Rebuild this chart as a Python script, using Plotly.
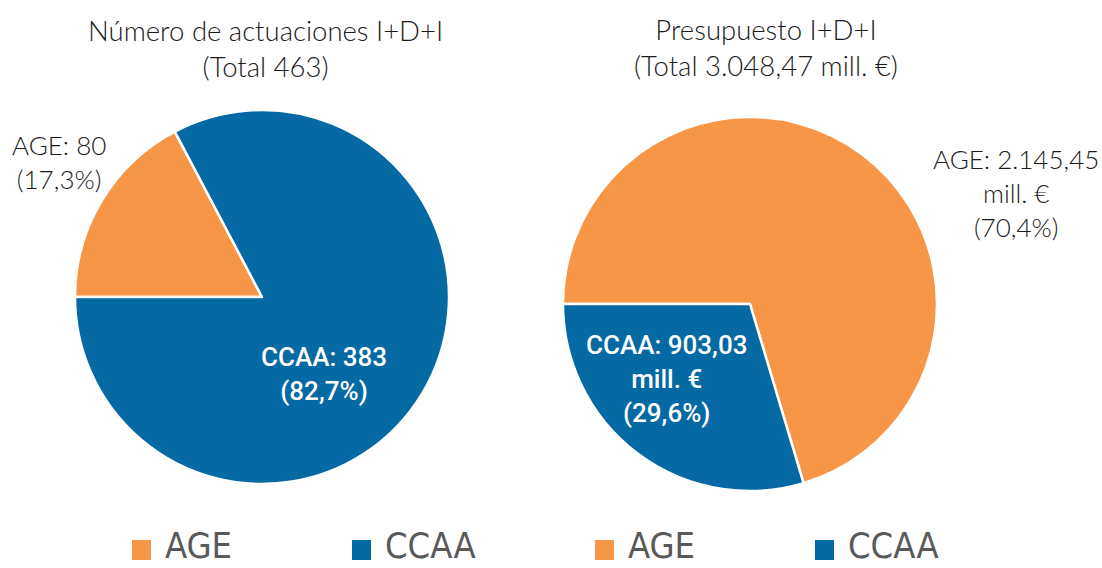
import plotly.graph_objects as go

# Data
categories = ["AGE", "CCAA"]
actuaciones = [80, 383]
presupuesto = [2145.45, 903.03]
presupuesto_total_label = "3.048,47"
colors = ["#F79646", "#0569A3"]

W, H = 1102, 568


def es_num(v, dec):
    s = f"{v:,.{dec}f}"
    return s.replace(",", "X").replace(".", ",").replace("X", ".")


def px_x(x):
    return x / W


def px_y(y):
    return 1 - y / H


def domain(cx, cy, r):
    return dict(x=[px_x(cx - r), px_x(cx + r)], y=[px_y(cy + r), px_y(cy - r)])


fig = go.Figure()

fig.add_trace(go.Pie(
    labels=categories, values=actuaciones, sort=False, direction="clockwise",
    rotation=270, marker=dict(colors=colors, line=dict(color="white", width=2.5)),
    textinfo="none", hoverinfo="label+value+percent", showlegend=False,
    domain=domain(262, 297, 187),
))
fig.add_trace(go.Pie(
    labels=categories, values=presupuesto, sort=False, direction="clockwise",
    rotation=270, marker=dict(colors=colors, line=dict(color="white", width=2.5)),
    textinfo="none", hoverinfo="label+value+percent", showlegend=False,
    domain=domain(750, 304, 187),
))

title_font = dict(family="Lato, 'Open Sans', sans-serif", size=27.5, color="#1a1a1a", weight=300)
label_font = dict(family="Lato, 'Open Sans', sans-serif", size=26, color="#1a1a1a", weight=300)
inner_font = dict(family="Roboto, sans-serif", size=26, color="white", weight=500)

tot_a = sum(actuaciones)
tot_p = sum(presupuesto)
pct_a = [es_num(100 * v / tot_a, 1) for v in actuaciones]
pct_p = [es_num(100 * v / tot_p, 1) for v in presupuesto]

annotations = [
    # titles
    dict(x=px_x(265), y=px_y(48),
         text=f"Número de actuaciones I+D+I<br>(Total {tot_a})", font=title_font),
    dict(x=px_x(766), y=px_y(47),
         text=f"Presupuesto I+D+I<br>(Total {presupuesto_total_label} mill. €)", font=title_font),
    # slice labels
    dict(x=px_x(59), y=px_y(162),
         text=f"{categories[0]}: {actuaciones[0]}<br>({pct_a[0]}%)", font=label_font),
    dict(x=px_x(324), y=px_y(374),
         text=f"{categories[1]}: {actuaciones[1]}<br>({pct_a[1]}%)", font=inner_font),
    dict(x=px_x(1016), y=px_y(193),
         text=f"{categories[0]}: {es_num(presupuesto[0], 2)}<br>mill. €<br>({pct_p[0]}%)",
         font=label_font),
    dict(x=px_x(666), y=px_y(379),
         text=f"{categories[1]}: {es_num(presupuesto[1], 2)}<br>mill. €<br>({pct_p[1]}%)",
         font=inner_font),
]
for a in annotations:
    a.update(xref="paper", yref="paper", xanchor="center", yanchor="middle",
             showarrow=False, align="center")

# bottom key, one pair of entries under each pie
legend_font = dict(family="'DejaVu Sans Condensed', 'Liberation Sans Narrow', sans-serif",
                   size=36, color="#595959")
key_x = [132, 352, 595, 815]
shapes = []
for i, x0 in enumerate(key_x):
    k = i % 2
    shapes.append(dict(type="rect", xref="paper", yref="paper",
                       x0=px_x(x0), x1=px_x(x0 + 19), y0=px_y(560), y1=px_y(540),
                       fillcolor=colors[k], line=dict(width=0)))
    annotations.append(dict(x=px_x(x0 + 31), y=px_y(545), xref="paper", yref="paper",
                            xanchor="left", yanchor="middle", showarrow=False,
                            text=categories[k], font=legend_font))

fig.update_layout(
    width=W, height=H, margin=dict(l=0, r=0, t=0, b=0),
    paper_bgcolor="white", plot_bgcolor="white",
    annotations=annotations, shapes=shapes,
)

fig.write_html("out.html")
